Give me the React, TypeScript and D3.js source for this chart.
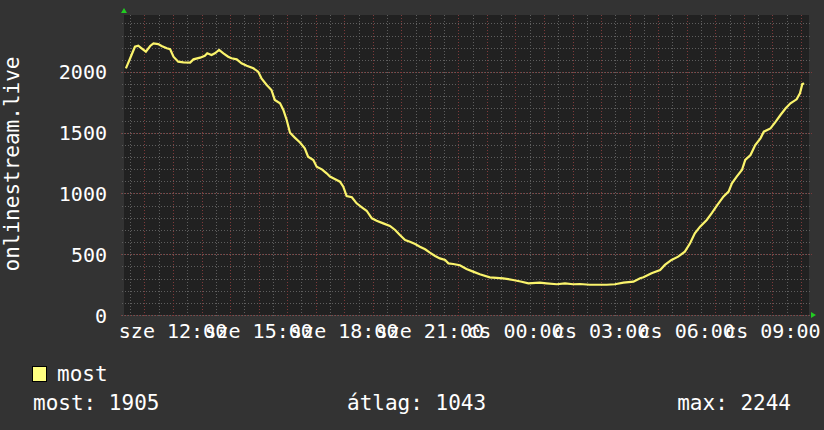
import React from 'react';
import * as d3 from 'd3';

// minutes since the graph start (sze 10:17) and the "most" value read at each
const minutes = [4, 13, 23, 30, 37, 46, 55, 62, 72, 79, 90, 97, 104, 114, 125, 139, 146, 160, 170, 175,
  184, 191, 200, 209, 219, 226, 237, 247, 258, 272, 282, 289, 300, 310, 317, 328, 335, 342, 349, 359,
  370, 380, 387, 398, 405, 416, 426, 433, 444, 454, 461, 468, 479, 489, 500, 510, 521, 531, 545, 559,
  570, 580, 591, 601, 612, 622, 633, 643, 654, 664, 675, 682, 692, 706, 720, 734, 748, 769, 797, 818,
  836, 850, 874, 888, 910, 927, 944, 958, 979, 1015, 1032, 1050, 1071, 1085, 1092, 1109, 1127, 1137, 1151, 1165,
  1179, 1190, 1200, 1211, 1225, 1236, 1246, 1260, 1271, 1278, 1288, 1299, 1306, 1317, 1327, 1338, 1345, 1359, 1370, 1380,
  1391, 1401, 1414, 1421, 1426, 1430];
const values = [2030, 2113, 2208, 2217, 2195, 2167, 2214, 2236, 2230, 2214, 2195, 2187, 2126, 2085, 2079, 2077, 2104, 2118, 2134, 2154,
  2140, 2154, 2181, 2154, 2126, 2113, 2104, 2072, 2052, 2030, 2003, 1948, 1893, 1852, 1770, 1742, 1687, 1605, 1500, 1460,
  1420, 1372, 1303, 1276, 1221, 1199, 1166, 1139, 1117, 1097, 1056, 979, 969, 919, 886, 858, 796, 776, 754, 733,
  700, 658, 617, 603, 584, 562, 541, 513, 486, 466, 453, 425, 420, 410, 379, 357, 335, 310, 302, 288,
  274, 261, 266, 261, 253, 261, 253, 255, 249, 249, 253, 266, 274, 302, 310, 343, 370, 412, 453, 480,
  521, 590, 672, 727, 782, 840, 898, 974, 1015, 1084, 1139, 1193, 1276, 1317, 1399, 1454, 1509, 1536, 1591, 1646,
  1701, 1742, 1775, 1825, 1901, 1905];

const seriesName = 'most';
const yLabel = 'onlinestream.live';
const dayNames = ['v', 'h', 'k', 'sze', 'cs', 'p', 'szo'];
const legendStats = [
  { label: 'most', value: 1905 },
  { label: 'átlag', value: 1043 },
  { label: 'max', value: 2244 },
];

const start = new Date(2024, 0, 3, 10, 17);
const end = new Date(start.getTime() + 24 * 3600 * 1000);

const font = 'DejaVu Sans Mono, monospace';

export default function App() {
  const W = 824, H = 430;
  const left = 124, right = 809, top = 15, bottom = 315;

  const x = d3.scaleTime().domain([start, end]).range([left, right]);
  const y = d3.scaleLinear().domain([0, 2469]).range([bottom, top]);

  const pts = minutes.map((m, i) => [new Date(start.getTime() + m * 60000), values[i]] as [Date, number]);
  const line = d3.line<[Date, number]>().x(d => x(d[0])).y(d => y(d[1]));

  const minorX = x.ticks(d3.timeMinute.every(30)!);
  const majorX = x.ticks(d3.timeHour.every(1)!);
  const labelX = x.ticks(d3.timeHour.every(3)!);
  const minorY = d3.range(0, 2469, 100);
  const majorY = d3.range(0, 2469, 500);

  const fmt = (d: Date) => `${dayNames[d.getDay()]} ${d3.timeFormat('%H:%M')(d)}`;
  const px = (v: number) => Math.round(v) + 0.5;

  return (
    <svg width={W} height={H} style={{ position: 'absolute', left: 0, top: 0 }}>
      <rect width={W} height={H} fill="#333333" />
      <rect x={left} y={top} width={right - left} height={bottom - top} fill="#212121" />

      <g shapeRendering="crispEdges">
        {minorX.map((t, i) => (
          <line key={'mx' + i} x1={px(x(t))} x2={px(x(t))} y1={top} y2={bottom + 2}
            stroke="#5e5e5e" strokeDasharray="1,2" />
        ))}
        {minorY.map((v, i) => (
          <line key={'my' + i} x1={left - 2} x2={right + 2} y1={px(y(v))} y2={px(y(v))}
            stroke="#5e5e5e" strokeDasharray="1,2" />
        ))}
        {majorX.map((t, i) => (
          <line key={'Mx' + i} x1={px(x(t))} x2={px(x(t))} y1={top} y2={bottom + 3}
            stroke="#7e3a3a" strokeDasharray="1,2" />
        ))}
        {majorY.map((v, i) => (
          <line key={'My' + i} x1={left - 3} x2={right + 3} y1={px(y(v))} y2={px(y(v))}
            stroke="#7e3a3a" strokeDasharray="1,2" />
        ))}
      </g>

      <path d={line(pts) ?? ''} fill="none" stroke="#fbf46c" strokeWidth={2.2} strokeLinejoin="miter" />

      {/* axis arrows */}
      <path d={`M${left - 3},${top - 2} L${left + 3},${top - 2} L${left},${top - 7} Z`} fill="#22cc22" />
      <path d={`M${right + 2},${bottom - 3} L${right + 2},${bottom + 3} L${right + 7},${bottom} Z`} fill="#22cc22" />

      {majorY.map((v, i) => (
        <text key={'yl' + i} x={107} y={y(v) + 7.5} textAnchor="end" fill="#ffffff"
          fontFamily={font} fontSize={20}>{v}</text>
      ))}
      {labelX.map((t, i) => (
        <text key={'xl' + i} x={x(t)} y={338} textAnchor="middle" fill="#ffffff"
          fontFamily={font} fontSize={20}>{fmt(t)}</text>
      ))}

      <text transform={`translate(19,164) rotate(-90)`} textAnchor="middle" fill="#ffffff"
        fontFamily={font} fontSize={21}>{yLabel}</text>

      <rect x={32.5} y={366.5} width={14} height={15} fill="#ffff80" stroke="#000000" />
      <text x={57} y={381} fill="#ffffff" fontFamily={font} fontSize={21}>{seriesName}</text>

      <text x={33} y={410} fill="#ffffff" fontFamily={font} fontSize={21}>
        {`${legendStats[0].label}: ${legendStats[0].value}`}
      </text>
      <text x={347} y={410} fill="#ffffff" fontFamily={font} fontSize={21}>
        {`${legendStats[1].label}: ${legendStats[1].value}`}
      </text>
      <text x={791} y={410} textAnchor="end" fill="#ffffff" fontFamily={font} fontSize={21}>
        {`${legendStats[2].label}: ${legendStats[2].value}`}
      </text>
    </svg>
  );
}
